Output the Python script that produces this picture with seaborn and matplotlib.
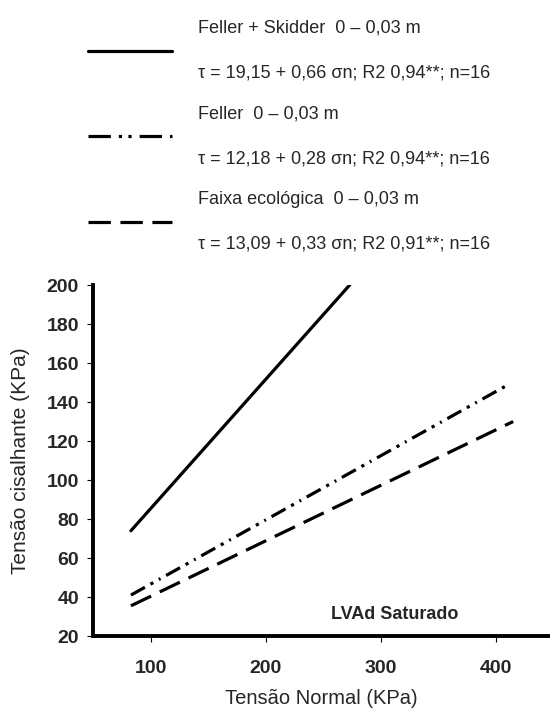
import matplotlib
matplotlib.use("Agg")
import matplotlib.pyplot as plt
import seaborn as sns
import pandas as pd
from matplotlib.lines import Line2D

series_names = ["Feller + Skidder", "Feller", "Faixa ecológica"]
legend_labels = [
    "Feller + Skidder  0 – 0,03 m\nτ = 19,15 + 0,66 σn; R2 0,94**; n=16",
    "Feller  0 – 0,03 m\nτ = 12,18 + 0,28 σn; R2 0,94**; n=16",
    "Faixa ecológica  0 – 0,03 m\nτ = 13,09 + 0,33 σn; R2 0,91**; n=16",
]
x_fs = [83, 273]
y_fs = [74, 200]
x_f = [83, 411]
y_f = [41, 149]
x_fe = [83, 415]
y_fe = [35.5, 130]

x_ticks = [100, 200, 300, 400]
y_ticks = [20, 40, 60, 80, 100, 120, 140, 160, 180, 200]

df = pd.concat([
    pd.DataFrame({"x": x_fs, "y": y_fs, "s": series_names[0]}),
    pd.DataFrame({"x": x_f, "y": y_f, "s": series_names[1]}),
    pd.DataFrame({"x": x_fe, "y": y_fe, "s": series_names[2]}),
])

sns.set_style("ticks")
plt.rcParams["font.family"] = ["Liberation Sans", "DejaVu Sans"]

fig = plt.figure(figsize=(5.5, 7.12), dpi=100)
ax = fig.add_axes([0.169, 0.1067, 0.831, 0.493])

dash_styles = {series_names[0]: "", series_names[1]: (5, 2, 1, 2, 0.6, 2), series_names[2]: (7, 3)}
sns.lineplot(data=df, x="x", y="y", style="s", dashes=dash_styles, color="black",
             linewidth=2.3, ax=ax, legend=False, estimator=None, sort=False)

ax.set_xlim(50, 447)
ax.set_ylim(20, 200)
ax.set_xticks(x_ticks)
ax.set_yticks(y_ticks)
ax.set_xticklabels([str(v) for v in x_ticks], fontsize=14, fontweight="bold")
ax.set_yticklabels([str(v) for v in y_ticks], fontsize=14, fontweight="bold")
ax.tick_params(axis="both", length=4, width=0.8, color="black")
ax.tick_params(axis="x", pad=13)
ax.tick_params(axis="y", pad=6)
ax.set_xlabel("Tensão Normal (KPa)", fontsize=14.5, labelpad=9)
ax.set_ylabel("Tensão cisalhante (KPa)", fontsize=15, labelpad=12)
for side in ["top", "right"]:
    ax.spines[side].set_visible(False)
for side in ["left", "bottom"]:
    ax.spines[side].set_linewidth(2.8)
    ax.spines[side].set_color("black")

ax.text(312, 31, "LVAd Saturado", fontsize=13, fontweight="bold", ha="center", va="center")

handles = [
    Line2D([], [], color="black", lw=2.3, linestyle="-"),
    Line2D([], [], color="black", lw=2.3, linestyle=(0, (7, 2.5, 1, 2, 1, 2.5))),
    Line2D([], [], color="black", lw=2.3, linestyle=(0, (7, 3))),
]
leg = fig.legend(handles, legend_labels, loc="upper left", bbox_to_anchor=(0.1375, 0.990),
                 frameon=False, fontsize=13, handlelength=4.65, handletextpad=1.4,
                 labelspacing=1.3, borderaxespad=0.3)
for t in leg.get_texts():
    t.set_linespacing(3.15)

fig.savefig("out.png", dpi=100)
